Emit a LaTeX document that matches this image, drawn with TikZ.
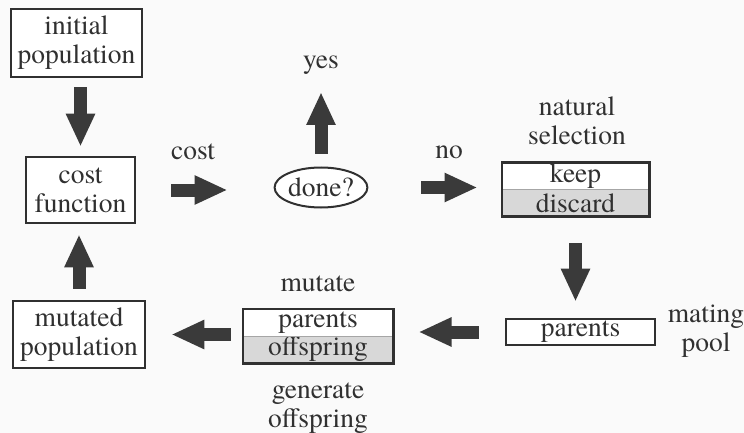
\documentclass[tikz,border=0pt]{standalone}
\usepackage{fontspec}
\setmainfont{TeX Gyre Termes}
\usetikzlibrary{arrows.meta,fit,shapes.geometric}
\definecolor{ink}{HTML}{303030}
\definecolor{arr}{HTML}{3A3A3A}
\definecolor{shade}{HTML}{D8D8D8}
\definecolor{bg}{HTML}{FAFAFA}
\begin{document}
\begin{tikzpicture}[x=1pt,y=-1pt,
  every node/.style={font=\fontsize{27.5}{29}\selectfont, text=ink, inner sep=0pt, align=center},
  box/.style={draw=ink, line width=2.6pt, fill=white},
  half/.style={minimum height=27pt},
  outline/.style={draw=ink, line width=2.6pt, inner sep=0pt},
  divider/.style={draw=gray!70, line width=0.8pt},
  bigarrow/.style={draw=arr, line width=13pt, -{Triangle[width=27pt,length=33pt]}}
]
\fill[bg] (0,0) rectangle (744,433);
\useasboundingbox (0,0) rectangle (744,433);

% boxes
\node[box, minimum width=131pt, minimum height=68pt] (init) at (76.5,43) {initial\\population};
\node[box, minimum width=109pt, minimum height=66pt] (costf) at (80.5,190) {cost\\function};
\node[box, minimum width=132pt, minimum height=67pt] (mutp) at (79,334.5) {mutated\\population};
\node[draw=ink, line width=2pt, ellipse, minimum width=86pt, minimum height=40pt, fill=white] (done) at (321,187.5) {done?};

% natural selection split box
\node[half, fill=white, minimum width=147pt] (keep) at (575.5,176) {keep};
\node[half, fill=shade, minimum width=147pt] (discard) at (575.5,203) {discard};
\draw[divider] (keep.south west) -- (keep.south east);
\node[outline, fit=(keep)(discard)] (nsel) {};

% mating pool box
\node[box, minimum width=149pt, minimum height=26pt] (matpar) at (580.5,332) {parents};

% mutate split box
\node[half, fill=white, minimum width=150pt] (par2) at (318,322.5) {parents};
\node[half, fill=shade, minimum width=150pt] (off2) at (318,349.5) {offspring};
\draw[divider] (par2.south west) -- (par2.south east);
\node[outline, fit=(par2)(off2)] (mutbox) {};

% labels
\node (yes) at (321,65) {yes};
\node (costlbl) at (193,152) {cost};
\node (nolbl) at (449,152) {no};
\node (natsel) at (577,121) {natural\\selection};
\node (mating) at (706,331) {mating\\pool};
\node (mutlbl) at (318,284) {mutate};
\node (genlbl) at (318,408) {generate\\offspring};
\coordinate (yesend) at (321,92);

% arrows
\draw[bigarrow, shorten <=9pt, shorten >=9pt] (costf.north |- init.south) -- (costf.north);
\draw[bigarrow, shorten <=35pt, shorten >=46pt] (costf.east) -- (done.west |- costf.east);
\draw[bigarrow, shorten <=13pt] (done.north) -- (yesend);
\draw[bigarrow, shorten <=53pt, shorten >=23pt] (done.east) -- (nsel.west |- done.east);
\draw[bigarrow, shorten <=25pt, shorten >=16pt] (nsel.south) -- (nsel.south |- matpar.north);
\draw[bigarrow, shorten <=26pt, shorten >=24pt] (matpar.west) -- (mutbox.east |- matpar.west);
\draw[bigarrow, shorten <=11pt, shorten >=25pt] (mutbox.west |- mutp.east) -- (mutp.east);
\draw[bigarrow, shorten <=11pt, shorten >=10pt] (mutp.north) -- (mutp.north |- costf.south);
\end{tikzpicture}
\end{document}
